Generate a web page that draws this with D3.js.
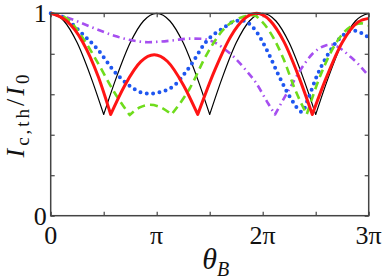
<!DOCTYPE html>
<html>
<head>
<meta charset="utf-8">
<script src="https://cdn.jsdelivr.net/npm/d3@7"></script>
<style>
  body { margin: 0; background: #fff; }
  text { font-family: "Liberation Serif", "DejaVu Serif", serif; fill: #111; }
</style>
</head>
<body>
<div id="chart"></div>
<script>
// theta in units of pi, value = I_c,th / I_0
var blackPts = [
  [0,1],[0.125,0.962],[0.25,0.854],[0.375,0.691],[0.5,0.5],[0.625,0.691],[0.75,0.854],[0.875,0.962],
  [1,1],[1.125,0.962],[1.25,0.854],[1.375,0.691],[1.5,0.5],[1.625,0.691],[1.75,0.854],[1.875,0.962],
  [2,1],[2.125,0.962],[2.25,0.854],[2.375,0.691],[2.5,0.5],[2.625,0.691],[2.75,0.854],[2.875,0.962],[3,1]
];
var blackCusps = [0.5, 1.5, 2.5];

var purplePts = [
  [0,1],[0.15,0.98],[0.289,0.952],[0.446,0.919],[0.6,0.889],[0.75,0.868],[0.918,0.857],[1.03,0.86],
  [1.15,0.866],[1.314,0.875],[1.42,0.874],[1.55,0.855],[1.628,0.828],[1.739,0.779],[1.84,0.72],
  [1.927,0.664],[2.053,0.553],[2.116,0.5],[2.25,0.625],[2.368,0.73],[2.47,0.8],[2.588,0.84],
  [2.65,0.845],[2.75,0.82],[2.824,0.787],[2.9,0.75],[3,0.69]
];
var purpleCusps = [2.116];

var bluePts = [
  [0,1],[0.1,0.985],[0.194,0.952],[0.289,0.903],[0.446,0.82],[0.6,0.713],[0.75,0.64],[0.85,0.61],
  [0.937,0.603],[1.03,0.61],[1.157,0.64],[1.314,0.738],[1.47,0.862],[1.628,0.927],[1.72,0.958],
  [1.8,0.965],[1.88,0.945],[1.927,0.919],[2.053,0.804],[2.147,0.697],[2.273,0.573],[2.37,0.513],
  [2.43,0.58],[2.51,0.689],[2.604,0.787],[2.73,0.878],[2.855,0.914],[3,0.88]
];
var blueCusps = [];

var greenPts = [
  [0,1],[0.15,0.975],[0.3,0.88],[0.45,0.75],[0.6,0.61],[0.745,0.497],[0.84,0.535],[0.937,0.548],
  [1.04,0.535],[1.14,0.5],[1.314,0.631],[1.47,0.795],[1.628,0.919],[1.786,0.977],[1.91,0.99],
  [2.0,0.955],[2.1,0.88],[2.2,0.77],[2.3,0.63],[2.415,0.5],[2.55,0.7],[2.7,0.86],[2.85,0.94],
  [2.93,0.95],[3,0.94]
];
var greenCusps = [0.745, 1.14, 2.415];

var redPts = [
  [0,1],[0.15,0.962],[0.3,0.86],[0.45,0.685],[0.566,0.5],[0.7,0.645],[0.85,0.761],[0.977,0.795],
  [1.1,0.763],[1.25,0.647],[1.387,0.5],[1.55,0.722],[1.7,0.887],[1.82,0.97],[1.943,1],[2.07,0.964],
  [2.2,0.86],[2.34,0.687],[2.468,0.5],[2.6,0.682],[2.75,0.856],[2.9,0.957],[3,0.975]
];
var redCusps = [0.566, 1.387, 2.468];

var xTicks = [0, 0.5, 1, 1.5, 2, 2.5, 3];
var xLabels = {0: "0", 1: "π", 2: "2π", 3: "3π"};
var yTicks = [0, 0.2, 0.4, 0.6, 0.8, 1];
var yLabels = {0: "0", 1: "1"};

var W = 382, H = 279;
var margin = {top: 13.3, right: 13.3, bottom: 63.3, left: 50.7},
    width = W - margin.left - margin.right,
    height = H - margin.top - margin.bottom;

var svg = d3.select("#chart").append("svg")
    .attr("width", W)
    .attr("height", H);
var g = svg.append("g")
    .attr("transform", "translate(" + margin.left + "," + margin.top + ")");

var x = d3.scaleLinear().domain([0, 3]).range([0, width]);
var y = d3.scaleLinear().domain([0, 1]).range([height, 0]);

// axes: inward ticks on all four sides
var fmt = function() { return ""; };
g.append("g").attr("transform", "translate(0," + height + ")")
  .call(d3.axisBottom(x).tickValues(xTicks).tickSize(-4).tickFormat(fmt));
g.append("g")
  .call(d3.axisTop(x).tickValues(xTicks).tickSize(-4).tickFormat(fmt));
g.append("g")
  .call(d3.axisLeft(y).tickValues(yTicks).tickSize(-4).tickFormat(fmt));
g.append("g").attr("transform", "translate(" + width + ",0)")
  .call(d3.axisRight(y).tickValues(yTicks).tickSize(-4).tickFormat(fmt));
g.selectAll(".domain").remove();
g.selectAll(".tick line").attr("stroke", "#444").attr("stroke-width", 1.2);

// curves
var line = d3.line()
  .x(function(d) { return x(d[0]); })
  .y(function(d) { return y(d[1]); })
  .curve(d3.curveMonotoneX);

function pathWithCusps(pts, cusps) {
  var segs = [], cur = [];
  pts.forEach(function(p) {
    cur.push(p);
    if (cusps.indexOf(p[0]) >= 0) { segs.push(cur); cur = [p]; }
  });
  if (cur.length > 1) segs.push(cur);
  return segs.map(function(s, i) {
    var d = line(s);
    return i === 0 ? d : "L" + d.slice(1);
  }).join("");
}

var series = [
  {pts: blackPts, cusps: blackCusps, color: "#000", w: 1.2, dash: null, cap: "butt"},
  {pts: purplePts, cusps: purpleCusps, color: "#a64ff0", w: 2.6, dash: "7,4,1.5,4", cap: "butt"},
  {pts: bluePts, cusps: blueCusps, color: "#1f56f0", w: 4, dash: "0,6.4", cap: "round"},
  {pts: greenPts, cusps: greenCusps, color: "#6fdc1c", w: 2.6, dash: "8,5", cap: "butt"},
  {pts: redPts, cusps: redCusps, color: "#ff1414", w: 3, dash: null, cap: "butt"}
];

series.forEach(function(s) {
  g.append("path")
    .attr("d", pathWithCusps(s.pts, s.cusps))
    .attr("fill", "none")
    .attr("stroke", s.color)
    .attr("stroke-width", s.w)
    .attr("stroke-dasharray", s.dash)
    .attr("stroke-linecap", s.cap)
    .attr("stroke-linejoin", "round");
});

// frame
g.append("rect")
  .attr("width", width).attr("height", height)
  .attr("fill", "none").attr("stroke", "#444").attr("stroke-width", 1.5);

// tick labels
g.selectAll(".xl").data(xTicks.filter(function(d) { return xLabels[d] !== undefined; }))
  .enter().append("text")
  .attr("x", function(d) { return x(d); })
  .attr("y", height + 28)
  .attr("text-anchor", "middle")
  .style("font-size", "26px")
  .text(function(d) { return xLabels[d]; });

g.selectAll(".yl").data(yTicks.filter(function(d) { return yLabels[d] !== undefined; }))
  .enter().append("text")
  .attr("x", -4)
  .attr("y", function(d) { return y(d) + 9; })
  .attr("text-anchor", "end")
  .style("font-size", "26px")
  .text(function(d) { return yLabels[d]; });

// axis titles
var xt = svg.append("text")
  .attr("x", margin.left + width / 2 + 6)
  .attr("y", 269)
  .attr("text-anchor", "middle")
  .style("font-size", "30px");
xt.append("tspan").style("font-style", "italic").text("θ");
xt.append("tspan").style("font-style", "italic").style("font-size", "20px").attr("dy", 7).text("B");

var yt = svg.append("text")
  .attr("transform", "translate(24," + (margin.top + height / 2) + ") rotate(-90)")
  .attr("text-anchor", "middle")
  .style("font-size", "26px")
  .style("letter-spacing", "3px");
yt.append("tspan").style("font-style", "italic").text("I");
yt.append("tspan").style("font-size", "19px").attr("dy", 5).text("c,th");
yt.append("tspan").attr("dy", -5).text("/");
yt.append("tspan").style("font-style", "italic").text("I");
yt.append("tspan").style("font-size", "19px").attr("dy", 5).text("0");
</script>
</body>
</html>
